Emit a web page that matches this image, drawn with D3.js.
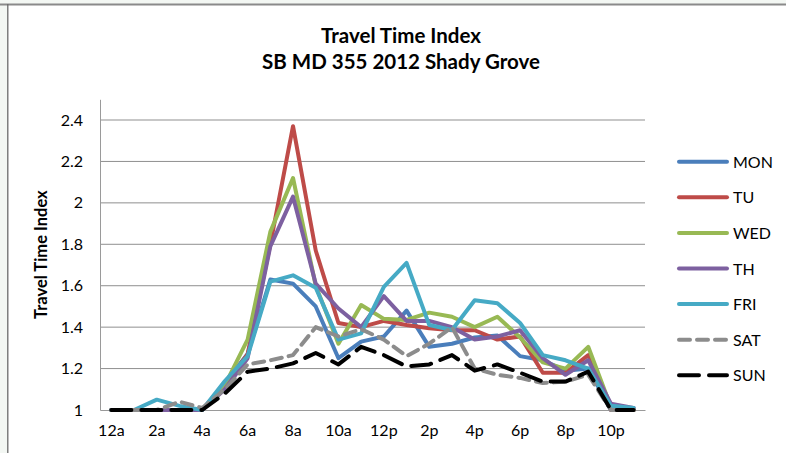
<!DOCTYPE html>
<html><head><meta charset="utf-8">
<script src="https://cdn.jsdelivr.net/npm/d3@7"></script>
<style>body{margin:0;padding:0;background:#fff;} svg{display:block;} text{font-family:Lato,"Open Sans",sans-serif;}</style>
</head><body>
<svg id="c" width="786" height="453"></svg>
<script>
const hours = ["12a","1a","2a","3a","4a","5a","6a","7a","8a","9a","10a","11a","12p","1p","2p","3p","4p","5p","6p","7p","8p","9p","10p","11p"];
const tickLabels = ["12a","2a","4a","6a","8a","10a","12p","2p","4p","6p","8p","10p"];
const yTicks = [1, 1.2, 1.4, 1.6, 1.8, 2, 2.2, 2.4];
const seriesNames = ["MON","TU","WED","TH","FRI","SAT","SUN"];
const MON = [1,1,1,1,1,1.13,1.27,1.63,1.61,1.50,1.25,1.33,1.355,1.48,1.305,1.32,1.35,1.36,1.26,1.24,1.19,1.20,1.0,1.0];
const TU  = [1,1,1,1,1,1.12,1.27,1.80,2.37,1.77,1.42,1.40,1.43,1.41,1.395,1.385,1.385,1.34,1.355,1.18,1.18,1.265,1.0,1.0];
const WED = [1,1,1,1,1,1.12,1.34,1.86,2.12,1.60,1.32,1.507,1.44,1.435,1.47,1.45,1.40,1.45,1.35,1.23,1.20,1.305,1.015,1.0];
const TH  = [1,1,1,1,1,1.10,1.25,1.79,2.03,1.61,1.49,1.40,1.55,1.43,1.43,1.40,1.34,1.355,1.385,1.25,1.17,1.24,1.03,1.01];
const FRI = [1,1,1.05,1.02,1,1.14,1.26,1.62,1.65,1.59,1.34,1.37,1.595,1.71,1.41,1.386,1.53,1.515,1.42,1.265,1.24,1.20,1.02,1.01];
const SAT = [1,1,1,1.04,1.01,1.10,1.22,1.24,1.265,1.40,1.355,1.39,1.34,1.26,1.32,1.40,1.20,1.17,1.155,1.13,1.137,1.17,1.0,1.0];
const SUN = [1,1,1,1,1,1.08,1.185,1.20,1.225,1.275,1.22,1.305,1.265,1.21,1.22,1.265,1.19,1.22,1.18,1.137,1.137,1.185,1.0,1.0];
const seriesValues = [MON,TU,WED,TH,FRI,SAT,SUN];
const colors = ["#4A7EBB","#BE4B48","#98B954","#7D60A0","#46AAC5","#8C8C8C","#000000"];
const dashes = [null,null,null,null,null,"11,7","20,10"];

const svg = d3.select("#c");
svg.append("rect").attr("width",786).attr("height",453).attr("fill","#f3f7f3");
svg.append("rect").attr("x",8).attr("y",5).attr("width",778).attr("height",448).attr("fill","#fff");
svg.append("line").attr("x1",0).attr("x2",786).attr("y1",4.5).attr("y2",4.5).attr("stroke","#8a8a8a").attr("stroke-width",2);
svg.append("line").attr("x1",7.8).attr("x2",7.8).attr("y1",4).attr("y2",453).attr("stroke","#6a6a6a").attr("stroke-width",1.3);

const L = 100, R = 645, T = 99.3, B = 410;
const x = d3.scaleBand().domain(hours).range([L, R]);
const y = d3.scaleLinear().domain([1, 2.5]).range([B, T]);
const cx = h => x(h) + x.bandwidth()/2;

// gridlines
svg.append("g").selectAll("line").data(yTicks.slice(1)).join("line")
  .attr("x1",L).attr("x2",R).attr("y1",d=>y(d)).attr("y2",d=>y(d))
  .attr("stroke","#8f8f8f").attr("stroke-width",1);

// y axis
const ya = svg.append("g").attr("transform",`translate(${L},0)`)
  .call(d3.axisLeft(y).tickValues(yTicks).tickSize(0).tickPadding(17).tickFormat(d3.format("~g")));
ya.select(".domain").attr("stroke","#9a9a9a");
ya.selectAll("text").attr("font-size",16).attr("fill","#000").style("font-family","Lato");

// x axis
const xa = svg.append("g").attr("transform",`translate(0,${B})`)
  .call(d3.axisBottom(x).tickValues(tickLabels).tickSize(0).tickPadding(15));
xa.select(".domain").attr("stroke","#9a9a9a");
xa.selectAll("text").attr("font-size",16).attr("fill","#000").style("font-family","Lato");

// lines
const line = d3.line().x((d,i)=>cx(hours[i])).y(d=>y(d));
seriesValues.forEach((vals,k)=>{
  svg.append("path").datum(vals).attr("d",line).attr("fill","none")
    .attr("stroke",colors[k]).attr("stroke-width",4).attr("stroke-linejoin","round")
    .attr("stroke-linecap","round")
    .attr("stroke-dasharray",dashes[k]);
});

// titles
svg.append("text").attr("x",401).attr("y",43).attr("text-anchor","middle")
  .attr("font-size",20.5).attr("font-weight","bold").text("Travel Time Index");
svg.append("text").attr("x",401).attr("y",69).attr("text-anchor","middle")
  .attr("font-size",20.5).attr("font-weight","bold").text("SB MD 355 2012 Shady Grove");
svg.append("text").attr("transform",`translate(47,${(T+B)/2}) rotate(-90)`).attr("text-anchor","middle")
  .attr("font-size",16.5).attr("font-weight","bold").text("Travel Time Index");

// legend
const lg = svg.append("g");
seriesNames.forEach((n,k)=>{
  const yy = 161.7 + k*35.6;
  lg.append("line").attr("x1",679).attr("x2",727).attr("y1",yy).attr("y2",yy)
    .attr("stroke",colors[k]).attr("stroke-width",4).attr("stroke-linecap","round")
    .attr("stroke-dasharray",dashes[k]);
  lg.append("text").attr("x",733).attr("y",yy+6).attr("font-size",16).text(n);
});
</script>
</body></html>
